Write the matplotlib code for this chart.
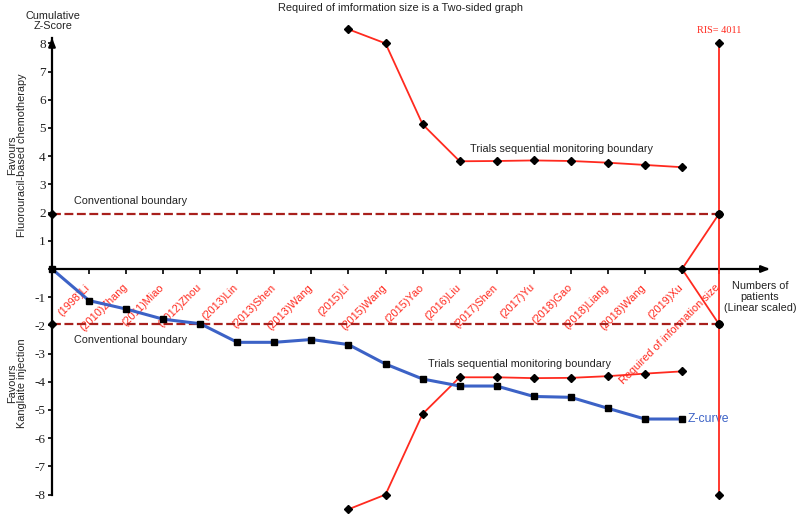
import matplotlib
matplotlib.use("Agg")
import matplotlib.pyplot as plt
import matplotlib.transforms as mtransforms
import numpy as np

# ---------------- data ----------------
studies = ["(1998)Li", "(2010)Zhang", "(2011)Miao", "(2012)Zhou", "(2013)Lin",
           "(2013)Shen", "(2013)Wang", "(2015)Li", "(2015)Wang", "(2015)Yao",
           "(2016)Liu", "(2017)Shen", "(2017)Yu", "(2018)Gao", "(2018)Liang",
           "(2018)Wang", "(2019)Xu"]
ris_label = "Required of information size"
z_curve = [0.0, -1.12, -1.42, -1.78, -1.94, -2.60, -2.60, -2.50, -2.68, -3.37,
           -3.90, -4.15, -4.15, -4.52, -4.55, -4.94, -5.32, -5.32]
tsmb_pos = [8, 9, 10, 11, 12, 13, 14, 15, 16, 17]
tsmb_upper = [8.50, 8.00, 5.13, 3.82, 3.83, 3.85, 3.83, 3.77, 3.69, 3.61]
tsmb_lower = [-8.52, -8.00, -5.14, -3.84, -3.84, -3.87, -3.86, -3.80, -3.71, -3.63]
conv_bound = 1.96
ris_pos = 18
ris_value = 4011
yticks = list(range(-8, 9))

RED = "#ff2a1f"
DRED = "#a8201c"
BLUE = "#3c62c6"

fig = plt.figure(figsize=(8.0, 5.15), dpi=100)
ax = fig.add_axes([0, 0, 1, 1])
# pixel mapping: x_px = 52 + 37.06*i ; y_px = 269 - 28.2*z
ax.set_xlim(-52 / 37.06, (800 - 52) / 37.06)
ax.set_ylim(-(515 - 269) / 28.2, 269 / 28.2)

for s in ["top", "right"]:
    ax.spines[s].set_visible(False)
ax.spines["left"].set_position(("data", 0))
ax.spines["bottom"].set_position(("data", 0))
ax.spines["left"].set_bounds(-8, 8.2)
ax.spines["bottom"].set_bounds(0, 19.3)
ax.spines["left"].set_linewidth(1.6)
ax.spines["bottom"].set_linewidth(1.6)

# arrows
ax.annotate("", xy=(0, 8.3), xytext=(0, 7.9),
            arrowprops=dict(arrowstyle="-|>,head_length=0.5,head_width=0.2", color="black", lw=1.6))
ax.annotate("", xy=(19.45, 0), xytext=(19.0, 0),
            arrowprops=dict(arrowstyle="-|>,head_length=0.5,head_width=0.2", color="black", lw=1.6))

ax.set_yticks(yticks)
ax.set_yticklabels([str(v) if v != 0 else "" for v in yticks],
                   fontfamily="Liberation Serif", fontsize=9.5, color="#222222")
ax.tick_params(axis="y", direction="out", length=3, width=1.2, pad=1.5)

xpos = list(range(1, len(studies) + 1)) + [ris_pos]
ax.set_xticks(xpos)
ax.set_xticklabels(studies + [ris_label], rotation=45, ha="right", va="top",
                   rotation_mode="anchor", color=RED, fontsize=7.8,
                   fontfamily="Liberation Sans")
ax.tick_params(axis="x", direction="out", length=3.5, width=1.2, pad=6)
shift = mtransforms.ScaledTranslation(-4 / 100, 0, fig.dpi_scale_trans)
for lab in ax.get_xticklabels():
    lab.set_transform(lab.get_transform() + shift)

# conventional boundaries
for sgn in (1, -1):
    ax.plot([0, ris_pos], [sgn * conv_bound] * 2, color=DRED, lw=1.6,
            dashes=(4, 1.6), zorder=3)
    ax.plot([0], [sgn * conv_bound], marker="D", color="black", ms=4, zorder=6, clip_on=False)

# TSMB lines
ax.plot(tsmb_pos, tsmb_upper, color=RED, lw=1.3, marker="D", ms=3.6,
        mfc="black", mec="black", zorder=4)
ax.plot(tsmb_pos, tsmb_lower, color=RED, lw=1.3, marker="D", ms=3.6,
        mfc="black", mec="black", zorder=4)
# lines to RIS
ax.plot([17, ris_pos], [0, conv_bound], color=RED, lw=1.3, zorder=4)
ax.plot([17, ris_pos], [0, -conv_bound], color=RED, lw=1.3, zorder=4)
ax.plot([17], [0], marker="D", ms=3.6, color="black", zorder=7)
# RIS vertical line
ax.plot([ris_pos, ris_pos], [-8, 8], color=RED, lw=1.3, zorder=4)
ax.plot([ris_pos] * 4, [-8, -conv_bound, conv_bound, 8], ls="none", marker="D",
        ms=3.6, color="black", zorder=7)
ax.plot([ris_pos, ris_pos], [-conv_bound, conv_bound], ls="none", marker="o",
        ms=5, color="black", zorder=7)

# Z-curve
zx = list(range(len(z_curve)))
ax.plot(zx, z_curve, color=BLUE, lw=2.2, marker="s", ms=4.8, mfc="black",
        mec="black", zorder=8, clip_on=False)

# texts
sans = "Liberation Sans"
ax.text(0.6, 2.4, "Conventional boundary", fontsize=7.8, family=sans,
        va="center", ha="left", color="#222222")
ax.text(0.6, -2.52, "Conventional boundary", fontsize=7.8, family=sans,
        va="center", ha="left", color="#222222")
ax.text(11.28, 4.26, "Trials sequential monitoring boundary", fontsize=7.8,
        family=sans, va="center", ha="left", color="#222222")
ax.text(10.15, -3.37, "Trials sequential monitoring boundary", fontsize=7.8,
        family=sans, va="center", ha="left", color="#222222")
ax.text(17.15, -5.32, "Z-curve", fontsize=8.8, family=sans, va="center",
        ha="left", color=BLUE)
ax.text(ris_pos, 8.3, f"RIS= {ris_value}", fontsize=7.4, family="Liberation Serif",
        va="bottom", ha="center", color=RED)

fig.text(0.5, 0.985, "Required of imformation size is a Two-sided graph",
         fontsize=7.9, family=sans, ha="center", va="center", color="#222222")
fig.text(53 / 800, 1 - 21 / 515, "Cumulative\nZ-Score", fontsize=7.8,
         family=sans, ha="center", va="center", linespacing=1.0, color="#222222")
fig.text(17 / 800, 1 - 155 / 515, "Favours\nFluorouracil-based chemotherapy",
         fontsize=7.8, family=sans, ha="center", va="center", rotation=90,
         linespacing=1.05, color="#222222")
fig.text(17 / 800, 1 - 383 / 515, "Favours\nKanglaite injection",
         fontsize=7.8, family=sans, ha="center", va="center", rotation=90,
         linespacing=1.05, color="#222222")
fig.text(760 / 800, 1 - 297 / 515, "Numbers of\npatients\n(Linear scaled)",
         fontsize=7.8, family=sans, ha="center", va="center", linespacing=1.15,
         color="#222222")

fig.savefig("out.png", dpi=100)
